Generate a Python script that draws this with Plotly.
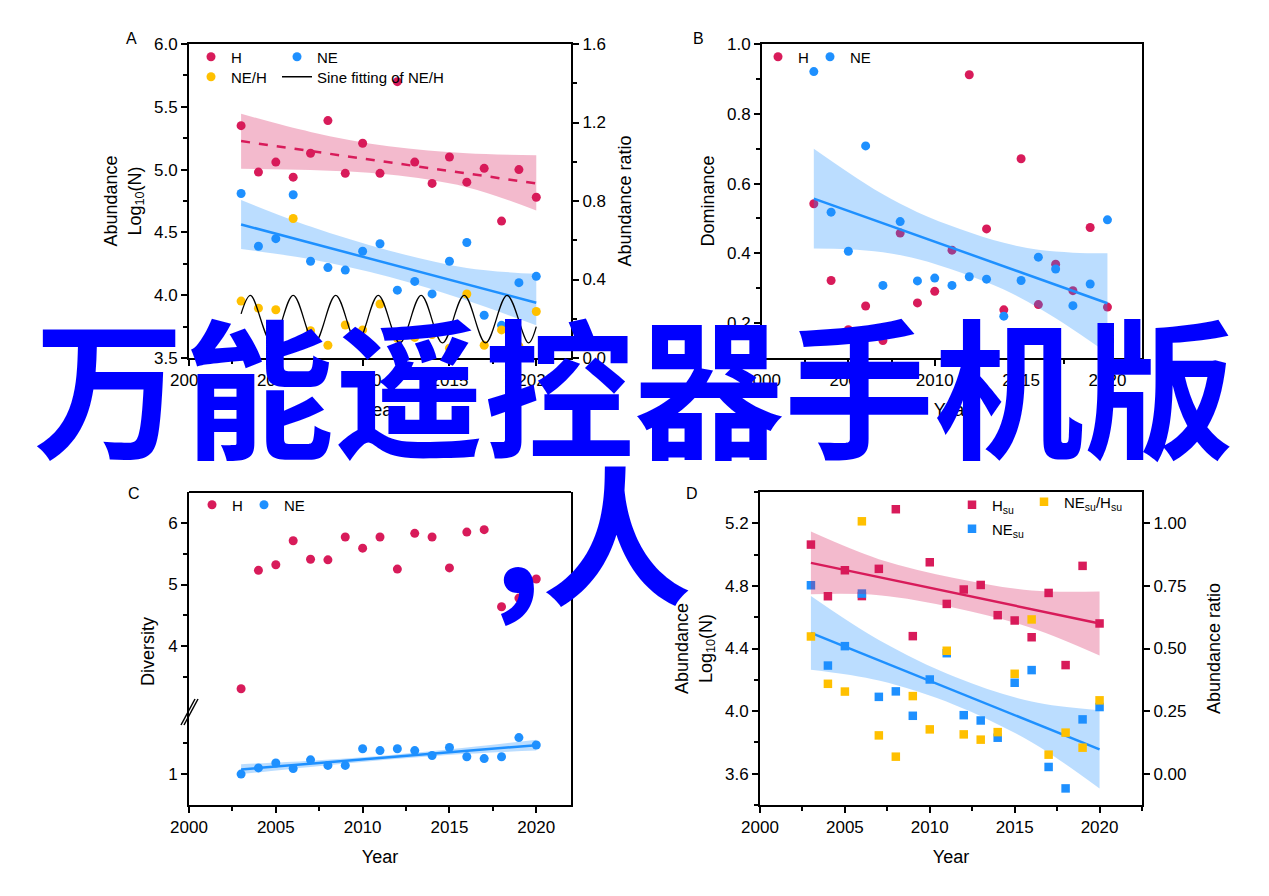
import plotly.graph_objects as go

W, H = 1269, 896

RED = "#D81B5A"
BLUE = "#1E90FF"
YELLOW = "#FFC000"
RED_BAND = "rgba(216,27,90,0.30)"
BLUE_BAND = "rgba(30,144,255,0.30)"
BLACK = "#000000"
FONT = "Liberation Sans, Arial, sans-serif"

years = list(range(2003, 2021))

# ---- panel A: abundance ----
a_h = [5.35, 4.98, 5.06, 4.94, 5.13, 5.39, 4.97, 5.21, 4.97, 5.70, 5.06, 4.89, 5.10, 4.90, 5.01, 4.59, 5.00, 4.78]
a_ne = [4.81, 4.39, 4.45, 4.80, 4.27, 4.22, 4.20, 4.35, 4.41, 4.04, 4.11, 4.01, 4.27, 4.42, 3.84, 3.76, 4.10, 4.15]
a_ratio = [0.290, 0.254, 0.246, 0.711, 0.139, 0.065, 0.168, 0.143, 0.275, 0.100, 0.105, 0.120, 0.050, 0.326, 0.065, 0.143, 0.060, 0.237]
a_fit_years = [2003, 2020]
a_h_fit = [5.227, 4.890]
a_ne_fit = [4.563, 3.940]
a_band_years = [2003, 2007, 2011.5, 2016, 2020]
a_h_upper = [5.445, 5.300, 5.185, 5.130, 5.115]
a_h_lower = [5.006, 4.997, 4.960, 4.860, 4.674]
a_ne_upper = [4.758, 4.546, 4.356, 4.217, 4.170]
a_ne_lower = [4.368, 4.286, 4.146, 3.957, 3.760]
# sine fitting of NE/H, read at its start, crests, troughs and end
sine_years = [2003, 2003.54, 2004.77, 2006.0, 2007.23, 2008.45, 2009.68, 2010.9,
              2012.14, 2013.37, 2014.6, 2015.85, 2017.08, 2018.32, 2019.55, 2020]
sine_vals = [0.225, 0.319, 0.077, 0.319, 0.077, 0.319, 0.077, 0.319,
             0.077, 0.319, 0.077, 0.319, 0.077, 0.319, 0.077, 0.160]

# ---- panel B: dominance ----
b_h = [0.542, 0.322, 0.181, 0.249, 0.150, 0.458, 0.258, 0.291, 0.409, 0.912, 0.470, 0.238, 0.671, 0.253, 0.369, 0.293, 0.474, 0.246]
b_ne = [0.921, 0.518, 0.406, 0.708, 0.308, 0.491, 0.321, 0.329, 0.308, 0.333, 0.326, 0.220, 0.322, 0.389, 0.355, 0.250, 0.312, 0.496]
b_ne_fit = [0.557, 0.257]
b_band_years = [2003, 2005, 2007, 2009, 2011.5, 2014, 2016, 2018, 2020]
b_ne_upper = [0.700, 0.632, 0.569, 0.518, 0.469, 0.430, 0.410, 0.402, 0.400]
b_ne_lower = [0.414, 0.412, 0.403, 0.384, 0.345, 0.296, 0.244, 0.182, 0.114]

# ---- panel C: diversity (broken axis) ----
c_h = [3.31, 5.23, 5.32, 5.71, 5.41, 5.40, 5.77, 5.59, 5.77, 5.25, 5.83, 5.77, 5.27, 5.85, 5.89, 4.64, 4.78, 5.09]
c_ne = [1.00, 1.10, 1.18, 1.09, 1.23, 1.14, 1.14, 1.41, 1.38, 1.41, 1.38, 1.30, 1.43, 1.28, 1.25, 1.28, 1.59, 1.47]
c_ne_fit = [1.076, 1.467]
c_band_years = [2003, 2007, 2011.5, 2016, 2020]
c_ne_upper = [1.160, 1.216, 1.305, 1.428, 1.555]
c_ne_lower = [1.000, 1.116, 1.235, 1.328, 1.380]

# ---- panel D: summer abundance ----
d_h = [5.064, 4.734, 4.900, 4.735, 4.909, 5.290, 4.479, 4.951, 4.685, 4.777, 4.806, 4.613, 4.579, 4.472, 4.755, 4.294, 4.928, 4.560]
d_ne = [4.804, 4.291, 4.415, 4.751, 4.091, 4.126, 3.970, 4.202, 4.370, 3.974, 3.940, 3.830, 4.181, 4.262, 3.643, 3.506, 3.947, 4.026]
d_ratio = [0.548, 0.359, 0.328, 1.008, 0.153, 0.068, 0.310, 0.177, 0.491, 0.157, 0.136, 0.166, 0.399, 0.616, 0.076, 0.164, 0.104, 0.293]
d_h_fit = [4.947, 4.560]
d_ne_fit = [4.500, 3.755]
d_band_years = [2003, 2007, 2011.5, 2016, 2020]
d_h_upper = [5.147, 4.971, 4.849, 4.771, 4.765]
d_h_lower = [4.747, 4.741, 4.659, 4.531, 4.355]
d_ne_upper = [4.736, 4.455, 4.218, 4.061, 4.005]
d_ne_lower = [4.264, 4.195, 4.038, 3.801, 3.505]


def px_x(x):
    return x / W


def px_y(y):
    return 1 - y / H


def band(fig, xs, upper, lower, color, xa, ya):
    fig.add_trace(go.Scatter(x=xs, y=lower, mode="lines", line=dict(width=0, shape="spline"),
                             showlegend=False, hoverinfo="skip", xaxis=xa, yaxis=ya))
    fig.add_trace(go.Scatter(x=xs, y=upper, mode="lines", line=dict(width=0, shape="spline"),
                             fill="tonexty", fillcolor=color, showlegend=False,
                             hoverinfo="skip", xaxis=xa, yaxis=ya))


def dots(fig, ys, color, name, xa, ya, legend, symbol="circle", size=9):
    fig.add_trace(go.Scatter(x=years, y=ys, mode="markers", name=name,
                             marker=dict(color=color, size=size, symbol=symbol, line=dict(width=0)),
                             legend=legend, xaxis=xa, yaxis=ya))


def fit(fig, ys, color, xa, ya, dash="solid"):
    fig.add_trace(go.Scatter(x=a_fit_years, y=ys, mode="lines", showlegend=False,
                             line=dict(color=color, width=2.5, dash=dash), xaxis=xa, yaxis=ya))


fig = go.Figure()

# A
dots(fig, a_h, RED, "H", "x", "y", "legend")
dots(fig, a_ne, BLUE, "NE", "x", "y", "legend2")
band(fig, a_band_years, a_h_upper, a_h_lower, RED_BAND, "x", "y")
band(fig, a_band_years, a_ne_upper, a_ne_lower, BLUE_BAND, "x", "y")
fit(fig, a_h_fit, RED, "x", "y", dash="dash")
fit(fig, a_ne_fit, BLUE, "x", "y")
dots(fig, a_ratio, YELLOW, "NE/H", "x", "y2", "legend3")
fig.add_trace(go.Scatter(x=sine_years, y=sine_vals, mode="lines", name="Sine fitting of NE/H",
                         line=dict(color=BLACK, width=1.3, shape="spline", smoothing=1),
                         legend="legend4", xaxis="x", yaxis="y2"))

# B
dots(fig, b_h, RED, "H", "x2", "y3", "legend5")
band(fig, b_band_years, b_ne_upper, b_ne_lower, BLUE_BAND, "x2", "y3")
dots(fig, b_ne, BLUE, "NE", "x2", "y3", "legend6")
fit(fig, b_ne_fit, BLUE, "x2", "y3")

# C
dots(fig, c_h, RED, "H", "x3", "y5", "legend7")
band(fig, c_band_years, c_ne_upper, c_ne_lower, BLUE_BAND, "x3", "y4")
dots(fig, c_ne, BLUE, "NE", "x3", "y4", "legend8")
fit(fig, c_ne_fit, BLUE, "x3", "y4")

# D
dots(fig, d_h, RED, "H<sub>su</sub>", "x4", "y6", "legend9", symbol="square", size=8.5)
dots(fig, d_ne, BLUE, "NE<sub>su</sub>", "x4", "y6", "legend11", symbol="square", size=8.5)
band(fig, d_band_years, d_h_upper, d_h_lower, RED_BAND, "x4", "y6")
band(fig, d_band_years, d_ne_upper, d_ne_lower, BLUE_BAND, "x4", "y6")
fit(fig, d_h_fit, RED, "x4", "y6")
fit(fig, d_ne_fit, BLUE, "x4", "y6")
dots(fig, d_ratio, YELLOW, "NE<sub>su</sub>/H<sub>su</sub>", "x4", "y7", "legend10", symbol="square", size=8.5)

axis_common = dict(
    showline=True, linecolor=BLACK, linewidth=2, ticks="outside", ticklen=6, tickwidth=2,
    tickcolor=BLACK, showgrid=False, zeroline=False, automargin=False,
    tickfont=dict(size=17, color=BLACK), title_font=dict(size=18, color=BLACK),
)
minor_common = dict(ticks="outside", ticklen=4, tickwidth=2, tickcolor=BLACK, showgrid=False)

dom_ax = [px_x(189), px_x(571)]
dom_bx = [px_x(762), px_x(1142)]
dom_top = [px_y(358), px_y(44)]
dom_bot = [px_y(805), px_y(492)]
c_break = px_y(711)

year_axis = dict(dtick=5, tick0=2000, minor=dict(dtick=2.5, tick0=2000, **minor_common),
                 title=dict(text="Year", standoff=14), **axis_common)

fig.update_layout(
    xaxis=dict(domain=dom_ax, anchor="y", range=[2000, 2022], mirror=True, **year_axis),
    yaxis=dict(domain=dom_top, anchor="x", range=[3.5, 6.0], dtick=0.5, tick0=0, tickformat=".1f",
               minor=dict(dtick=0.25, tick0=0, **minor_common),
               title=dict(text="Abundance<br>Log<sub>10</sub>(N)", standoff=8), **axis_common),
    yaxis2=dict(overlaying="y", anchor="x", side="right", range=[0, 1.6], dtick=0.4, tick0=0,
                tickformat=".1f", minor=dict(dtick=0.2, tick0=0, **minor_common),
                title=dict(text="Abundance ratio", standoff=13), **axis_common),
    xaxis2=dict(domain=dom_bx, anchor="y3", range=[2000, 2022], mirror=True, **year_axis),
    yaxis3=dict(domain=dom_top, anchor="x2", range=[0.1, 1.0], dtick=0.2, tick0=0, tickformat=".1f",
                minor=dict(dtick=0.1, tick0=0, **minor_common), mirror=True,
                title=dict(text="Dominance", standoff=8), **axis_common),
    xaxis3=dict(domain=dom_ax, anchor="y4", range=[2000, 2022], **year_axis),
    yaxis4=dict(domain=[dom_bot[0], c_break], anchor="x3", range=[0.5, 2.02], tickvals=[1],
                minor=dict(tickvals=[1.5], **minor_common), mirror=True, **axis_common),
    yaxis5=dict(domain=[c_break, dom_bot[1]], anchor="x3", range=[2.95, 6.5], tickvals=[4, 5, 6],
                minor=dict(tickvals=[3.5, 4.5, 5.5], **minor_common), mirror=True, **axis_common),
    xaxis4=dict(domain=[px_x(760), px_x(1142)], anchor="y6", range=[2000, 2022.5], mirror=True, **year_axis),
    yaxis6=dict(domain=dom_bot, anchor="x4", range=[3.4, 5.4], dtick=0.4, tick0=3.6, tickformat=".1f",
                minor=dict(dtick=0.2, tick0=3.6, **minor_common),
                title=dict(text="Abundance<br>Log<sub>10</sub>(N)", standoff=8), **axis_common),
    yaxis7=dict(overlaying="y6", anchor="x4", side="right", range=[-0.125, 1.125], dtick=0.25, tick0=0,
                tickformat=".2f", title=dict(text="Abundance ratio", standoff=22), **axis_common),
)

# one legend box per entry so each sits where the reference puts it
leg = dict(orientation="h", bgcolor="rgba(0,0,0,0)", borderwidth=0, font=dict(size=15, color=BLACK),
           xanchor="left", yanchor="middle", itemwidth=30, traceorder="normal")
legend_spots = {
    "legend": (191, 57), "legend2": (277, 57), "legend3": (191, 77), "legend4": (277, 77),
    "legend5": (758, 57), "legend6": (810, 57),
    "legend7": (192, 505), "legend8": (244, 505),
    "legend9": (952, 505), "legend10": (1024, 502), "legend11": (952, 529),
}
fig.update_layout(**{k: dict(x=px_x(px), y=px_y(py), **leg) for k, (px, py) in legend_spots.items()})

# frame top of panel C and the axis break marks
fig.add_shape(type="line", xref="x3 domain", yref="y5 domain", x0=0, x1=1, y0=1, y1=1,
              line=dict(color=BLACK, width=2))
for dx in (0, 3):
    fig.add_shape(type="line", xref="paper", yref="paper",
                  x0=px_x(181 + dx), y0=px_y(725), x1=px_x(195 + dx), y1=px_y(699),
                  line=dict(color=BLACK, width=1.5))

annotations = [
    dict(text="A", x=px_x(131), y=px_y(38)),
    dict(text="B", x=px_x(698), y=px_y(38)),
    dict(text="C", x=px_x(134), y=px_y(493)),
    dict(text="D", x=px_x(692), y=px_y(493)),
]
for a in annotations:
    fig.add_annotation(xref="paper", yref="paper", showarrow=False, font=dict(size=16, color=BLACK),
                       xanchor="center", yanchor="middle", **a)
fig.add_annotation(text="Diversity", xref="paper", yref="paper", x=px_x(148), y=px_y(652),
                   xanchor="center", yanchor="middle",
                   textangle=-90, showarrow=False, font=dict(size=18, color=BLACK))

# overlaid banner text
banner_font = dict(family="Noto Sans CJK SC", size=150, color="#0000FF", weight="bold")
fig.add_annotation(text="万能遥控器手机版", xref="paper", yref="paper", x=px_x(634), y=px_y(381),
                   xanchor="center", yanchor="middle", showarrow=False, font=banner_font)
fig.add_annotation(text=",人", xref="paper", yref="paper", x=px_x(592), y=px_y(528),
                   xanchor="center", yanchor="middle", showarrow=False, font=banner_font)

fig.update_layout(
    width=W, height=H, margin=dict(l=0, r=0, t=0, b=0),
    paper_bgcolor="#ffffff", plot_bgcolor="#ffffff",
    font=dict(family=FONT, color=BLACK),
    showlegend=True,
)

fig.write_html("out.html", config={"displayModeBar": False},
               post_script="document.body.style.margin='0px';document.body.style.overflow='hidden';")
